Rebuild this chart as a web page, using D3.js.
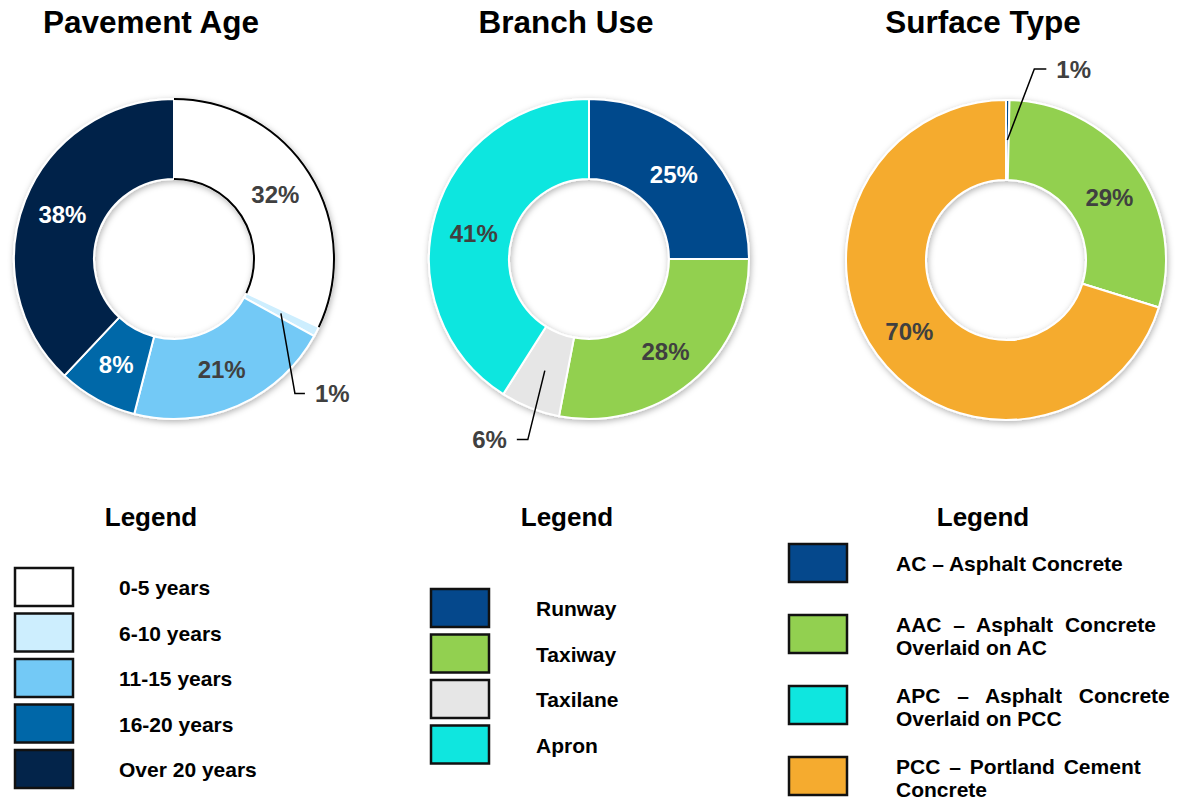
<!DOCTYPE html>
<html>
<head>
<meta charset="utf-8">
<script src="https://cdn.jsdelivr.net/npm/d3@7"></script>
<style>
  body { margin: 0; background: #fff; }
  text { font-family: "Liberation Sans", Arial, sans-serif; font-weight: bold; }
</style>
</head>
<body>
<script>
// chart data
const ageCategories = ["0-5 years", "6-10 years", "11-15 years", "16-20 years", "Over 20 years"];
const ageValues = [32, 1, 21, 8, 38];
const ageColors = ["#ffffff", "#cdeefe", "#73c9f6", "#0067a8", "#03244a"];

const useCategories = ["Runway", "Taxiway", "Taxilane", "Apron"];
const useValues = [25, 28, 6, 41];
const useColors = ["#05488c", "#92d050", "#e6e6e6", "#0fe6df"];

const surfaceCategories = [
  ["AC \u2013 Asphalt Concrete"],
  ["AAC \u2013 Asphalt Concrete", "Overlaid on AC"],
  ["APC \u2013 Asphalt Concrete", "Overlaid on PCC"],
  ["PCC \u2013 Portland Cement", "Concrete"]
];
const surfaceValues = [0.35, 29.45, 0, 70.2];
const surfaceColors = ["#05488c", "#92d050", "#0fe6df", "#f5ab2f"];

const width = 1180, height = 803;
const outerR = 160, innerR = 80;
const dark = "#404040";

const svg = d3.select("body").append("svg")
  .attr("width", width)
  .attr("height", height);

// soft shadow under the rings
const defs = svg.append("defs");
defs.append("filter")
  .attr("id", "shadow")
  .attr("x", "-20%").attr("y", "-20%")
  .attr("width", "140%").attr("height", "140%")
  .append("feDropShadow")
  .attr("dx", 1).attr("dy", 2)
  .attr("stdDeviation", 3)
  .attr("flood-color", "#000")
  .attr("flood-opacity", 0.3);

const pie = d3.pie().sort(null).value(d => d);
const arc = d3.arc().innerRadius(innerR).outerRadius(outerR);
const pct = v => Math.max(1, Math.round(v)) + "%";

function donut(cfg) {
  const g = svg.append("g").attr("transform", `translate(${cfg.cx},${cfg.cy})`);
  const arcs = pie(cfg.values);

  g.append("g").attr("filter", "url(#shadow)")
    .selectAll("path")
    .data(arcs)
    .join("path")
    .attr("d", arc)
    .attr("fill", (d, i) => cfg.colors[i])
    .attr("stroke", "#fff")
    .attr("stroke-width", 2);

  // black edge on the white slice
  if (cfg.outline != null) {
    const a = arcs[cfg.outline];
    [outerR, innerR].forEach(r => {
      g.append("path")
        .attr("d", d3.arc().innerRadius(r).outerRadius(r)(a))
        .attr("fill", "none")
        .attr("stroke", "#000")
        .attr("stroke-width", 2);
    });
  }

  arcs.forEach((a, i) => {
    if (a.data === 0) return;
    const [x, y] = arc.centroid(a);
    const lead = cfg.leaders[i];
    if (lead) {
      const ex = x + lead.dx, ey = y + lead.dy;
      const hx = ex + lead.h;
      g.append("path")
        .attr("d", `M${x},${y}L${ex},${ey}L${hx},${ey}`)
        .attr("fill", "none")
        .attr("stroke", "#000")
        .attr("stroke-width", 1.5);
      g.append("text")
        .attr("x", hx + (lead.h > 0 ? 10 : -10))
        .attr("y", ey)
        .attr("dy", "0.36em")
        .attr("text-anchor", lead.h > 0 ? "start" : "end")
        .attr("font-size", 24)
        .attr("fill", dark)
        .text(pct(a.data));
    } else {
      const nudge = cfg.nudge[i] || [0, 0];
      g.append("text")
        .attr("x", x + nudge[0])
        .attr("y", y + nudge[1])
        .attr("dy", "0.36em")
        .attr("text-anchor", "middle")
        .attr("font-size", 24)
        .attr("fill", cfg.labelColors[i])
        .text(pct(a.data));
    }
  });

  svg.append("text")
    .attr("x", cfg.cx - 23)
    .attr("y", 33)
    .attr("text-anchor", "middle")
    .attr("font-size", 31.5)
    .attr("fill", "#000")
    .text(cfg.title);
}

donut({
  title: "Pavement Age", cx: 174, cy: 259,
  values: ageValues, colors: ageColors, outline: 0,
  labelColors: [dark, dark, dark, "#fff", "#fff"],
  leaders: { 1: { dx: 14, dy: 80, h: 10 } }, nudge: {}
});
donut({
  title: "Branch Use", cx: 589, cy: 259,
  values: useValues, colors: useColors,
  labelColors: ["#fff", dark, dark, dark],
  leaders: { 2: { dx: -17, dy: 69, h: -11 } },
  nudge: { 3: [0, 8] }
});
donut({
  title: "Surface Type", cx: 1006, cy: 260,
  values: surfaceValues, colors: surfaceColors,
  labelColors: [dark, dark, dark, dark],
  leaders: { 0: { dx: 27, dy: -71, h: 12 } },
  nudge: { 1: [6, 7] }
});

// legends
function legend(cfg) {
  const g = svg.append("g");
  g.append("text")
    .attr("x", cfg.titleX)
    .attr("y", 526)
    .attr("text-anchor", "middle")
    .attr("font-size", 26)
    .attr("fill", "#000")
    .text("Legend");

  cfg.items.forEach((lines, i) => {
    const top = cfg.y0 + i * cfg.step;
    g.append("rect")
      .attr("x", cfg.boxX)
      .attr("y", top)
      .attr("width", 58)
      .attr("height", 38)
      .attr("fill", cfg.colors[i])
      .attr("stroke", "#111")
      .attr("stroke-width", 2.5);
    const cy = top + 19;
    const startY = lines.length > 1 ? cy - 2 : cy + 8;
    lines.forEach((line, j) => {
      g.append("text")
        .attr("x", cfg.textX)
        .attr("y", startY + j * 23)
        .attr("font-size", 21)
        .attr("fill", "#000")
        .attr("word-spacing", j === 0 && cfg.spacing ? cfg.spacing[i] : 0)
        .text(line);
    });
  });
}

legend({
  titleX: 151, boxX: 15, textX: 119, y0: 568, step: 45.5,
  items: ageCategories.map(d => [d]), colors: ageColors
});
legend({
  titleX: 567, boxX: 431, textX: 536, y0: 589, step: 45.5,
  items: useCategories.map(d => [d]), colors: useColors
});
legend({
  titleX: 983, boxX: 789, textX: 896, y0: 544, step: 71,
  items: surfaceCategories, colors: surfaceColors,
  spacing: [0, 6, 11, 3]
});
</script>
</body>
</html>
